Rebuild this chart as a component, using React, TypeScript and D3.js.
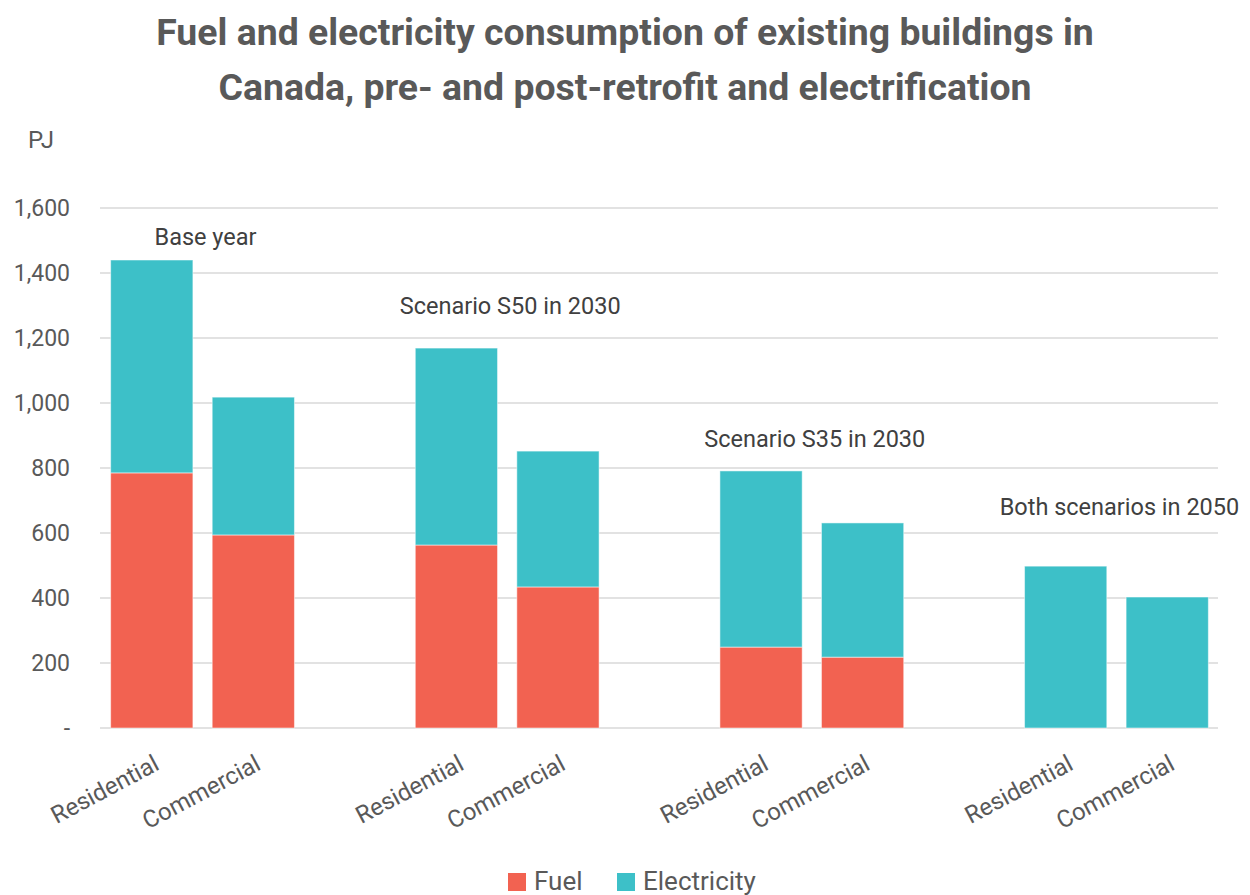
import React from "react";
import * as d3 from "d3";

const groups = ["Base year", "Scenario S50 in 2030", "Scenario S35 in 2030", "Both scenarios in 2050"];
const sectors = ["Residential", "Commercial"];
const fuel = [785, 594, 563, 434, 249, 218, 0, 0];
const electricity = [655, 424, 606, 418, 542, 413, 498, 403];
const groupLabelValues = [1510, 1300, 890, 680];
const yTicks = [0, 200, 400, 600, 800, 1000, 1200, 1400, 1600];
const seriesNames = ["Fuel", "Electricity"];
const colors = ["#F26251", "#3DC0C8"];

export default function App() {
  const W = 1250, H = 895;
  const left = 101, right = 1218, top = 208, bottom = 728;
  const slots: string[] = [];
  groups.forEach((g, gi) => {
    sectors.forEach((s) => slots.push(`${gi}-${s}`));
    if (gi < groups.length - 1) slots.push(`gap-${gi}`);
  });
  const x = d3.scaleBand<string>().domain(slots).range([left, right]).paddingInner(0.19).paddingOuter(0.095);
  const y = d3.scaleLinear().domain([0, 1600]).range([bottom, top]);
  const fmt = d3.format(",");
  const font = "Roboto, 'Noto Sans', sans-serif";

  const bars: { key: string; i: number; fuel: number; elec: number; sector: string }[] = [];
  groups.forEach((g, gi) => {
    sectors.forEach((s, si) => {
      const i = gi * 2 + si;
      bars.push({ key: `${gi}-${s}`, i, fuel: fuel[i], elec: electricity[i], sector: s });
    });
  });

  return (
    <svg width={W} height={H} style={{ display: "block", position: "absolute", left: 0, top: 0 }} fontFamily={font}>
      <rect width={W} height={H} fill="#fff" />
      <text x={625} y={45} textAnchor="middle" fontSize={37.4} fontWeight="bold" fill="#595959">
        Fuel and electricity consumption of existing buildings in
      </text>
      <text x={625} y={100} textAnchor="middle" fontSize={37.4} fontWeight="bold" fill="#595959">
        Canada, pre- and post-retrofit and electrification
      </text>
      <text x={28} y={148} fontSize={24} fill="#595959">PJ</text>
      {yTicks.map((t) => (
        <g key={t}>
          <line x1={left - 1} x2={right} y1={y(t)} y2={y(t)} stroke="#d9d9d9" strokeWidth={1.5} />
          <text x={70} y={y(t)} dy="0.35em" textAnchor="end" fontSize={23} fill="#595959">
            {t === 0 ? "-" : fmt(t)}
          </text>
        </g>
      ))}
      {bars.map((b) => {
        const bx = x(b.key)!;
        const bw = x.bandwidth();
        return (
          <g key={b.key}>
            {b.fuel > 0 && (
              <rect x={bx} y={y(b.fuel)} width={bw} height={y(0) - y(b.fuel)} fill={colors[0]} stroke="#fff" strokeOpacity={0.5} strokeWidth={1} />
            )}
            <rect x={bx} y={y(b.fuel + b.elec)} width={bw} height={y(b.fuel) - y(b.fuel + b.elec)} fill={colors[1]} stroke="#fff" strokeOpacity={0.5} strokeWidth={1} />
            <text
              transform={`translate(${bx + bw / 2 + 1},${bottom + 26}) rotate(-28)`}
              textAnchor="end"
              fontSize={24}
              fill="#595959"
              dy="0.7em"
            >
              {b.sector}
            </text>
          </g>
        );
      })}
      {groups.map((g, gi) => {
        const cx = (x(`${gi}-Residential`)! + x(`${gi}-Commercial`)! + x.bandwidth()) / 2;
        return (
          <text key={g} x={cx + 3} y={y(groupLabelValues[gi])} dy="0.35em" textAnchor="middle" fontSize={23.5} fill="#404040">
            {g}
          </text>
        );
      })}
      {seriesNames.map((s, i) => {
        const lx = i === 0 ? 508 : 617;
        return (
          <g key={s}>
            <rect x={lx} y={873} width={18} height={18} fill={colors[i]} />
            <text x={lx + 26} y={890} fontSize={26} fill="#595959">{s}</text>
          </g>
        );
      })}
    </svg>
  );
}
